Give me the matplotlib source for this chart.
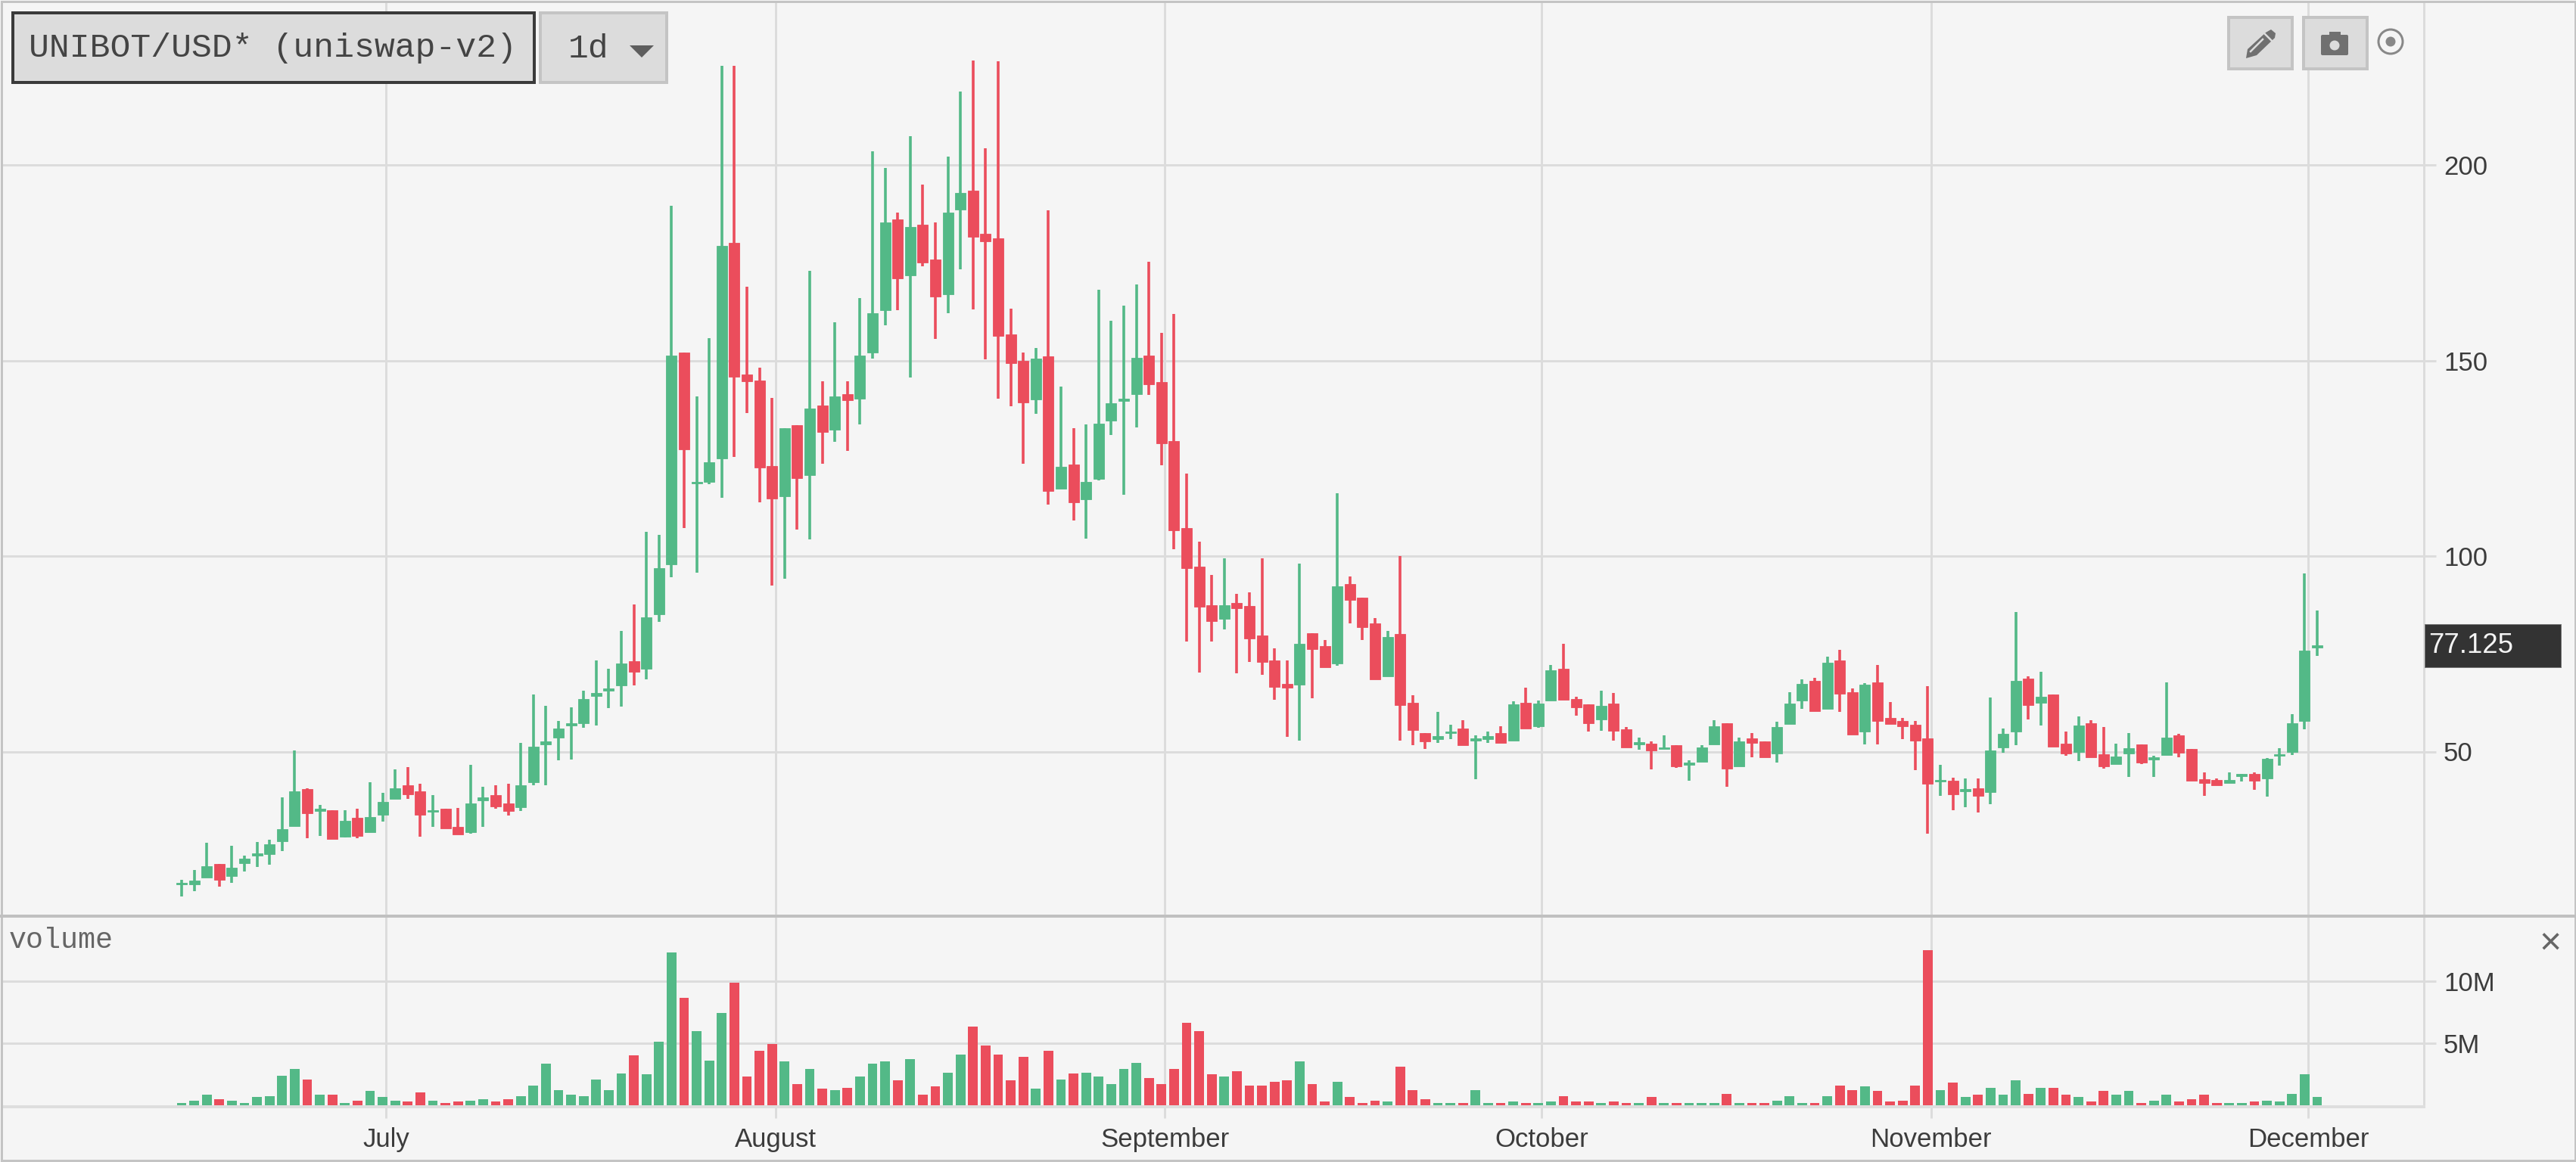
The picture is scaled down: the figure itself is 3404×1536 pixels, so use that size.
import matplotlib
matplotlib.use("Agg")
import matplotlib.pyplot as plt
import pandas as pd
from matplotlib.patches import Rectangle, Circle, Polygon, FancyBboxPatch
from matplotlib.transforms import blended_transform_factory

title = "UNIBOT/USD* (uniswap-v2)"
interval = "1d"
start_date = "2023-06-15"
last_price = 77.125
month_starts = ["2023-07-01", "2023-08-01", "2023-09-01", "2023-10-01", "2023-11-01", "2023-12-01"]
month_labels = ["July", "August", "September", "October", "November", "December"]
price_ticks = [50, 100, 150, 200]
volume_ticks = [5, 10]
volume_tick_labels = ["5M", "10M"]

opens = [16.0,16.0,17.8,21.3,18.1,21.4,23.4,23.8,27.0,30.9,
 40.4,34.8,35.0,28.2,33.0,29.4,33.9,37.9,41.3,39.8,
 34.6,35.4,30.8,29.4,37.6,38.9,36.8,35.7,42.1,51.9,
 53.5,56.7,57.3,64.2,65.6,66.9,73.1,71.1,85.2,97.9,
 152.0,118.5,119.0,125.0,180.0,146.4,144.9,123.1,115.3,133.4,
 120.6,138.4,132.3,141.4,140.3,152.0,162.8,186.0,171.8,184.8,
 175.8,167.0,188.5,193.5,182.4,181.2,156.7,149.9,140.0,151.0,
 117.3,123.4,114.6,119.7,134.7,139.7,141.3,151.2,144.4,129.4,
 107.2,97.3,87.5,84.0,88.0,87.2,79.6,73.4,67.3,67.2,
 80.2,77.0,72.5,92.9,89.3,82.7,69.3,80.0,62.5,54.8,
 53.2,54.7,55.9,52.8,53.2,54.8,52.8,62.5,56.4,63.0,
 71.2,63.5,62.0,58.3,62.3,55.7,51.9,52.1,50.7,51.7,
 46.7,47.3,51.9,57.2,46.2,53.3,52.7,49.5,57.0,63.0,
 68.0,60.9,73.4,65.2,55.2,67.7,58.7,57.8,56.9,53.3,
 42.3,42.5,39.9,40.7,39.6,51.0,55.2,68.6,62.4,64.7,
 52.1,50.0,57.2,49.4,46.8,49.5,51.8,48.0,49.2,54.2,
 50.6,43.0,42.8,42.0,43.8,44.3,43.2,48.9,50.0,57.9,
 76.5]
closes = [16.5,17.0,20.6,17.2,20.3,22.7,24.0,26.3,30.2,39.8,
 34.2,35.4,27.6,32.3,28.5,33.2,37.1,40.7,39.0,33.9,
 35.1,30.3,28.8,36.8,38.3,36.0,34.8,41.3,51.2,52.7,
 55.9,57.2,63.4,65.0,66.2,72.5,70.5,84.4,97.0,151.3,
 127.2,118.9,124.0,179.4,145.8,144.6,122.7,114.7,132.7,120.0,
 137.8,131.7,140.9,139.8,151.3,162.1,185.3,170.9,184.2,175.0,
 166.4,187.8,192.9,181.7,180.5,156.2,149.3,139.2,150.4,116.7,
 122.8,113.7,118.9,133.9,139.0,140.2,150.7,143.9,128.8,106.5,
 96.9,87.0,83.4,87.5,86.7,79.0,72.9,66.6,66.3,77.6,
 76.2,71.6,92.2,88.8,81.9,68.4,79.4,61.8,55.5,52.6,
 54.0,55.2,51.6,53.3,54.0,52.2,62.0,55.9,62.3,70.7,
 63.3,61.3,57.3,61.7,55.3,51.1,52.4,50.2,51.1,46.2,
 47.2,51.1,56.5,45.6,52.7,52.2,48.5,56.3,62.3,67.4,
 60.3,72.8,64.8,54.3,67.1,57.9,57.0,56.4,52.8,41.7,
 42.8,39.0,40.4,38.7,50.3,54.5,68.0,61.8,64.1,51.3,
 49.5,56.6,48.6,46.2,48.8,50.9,47.1,48.5,53.6,49.8,
 42.6,42.0,41.3,42.8,44.3,42.6,48.2,49.4,57.2,75.8,
 77.125]
highs = [17.3,19.7,26.6,21.3,26.0,23.4,26.9,27.4,38.3,50.3,
 40.7,36.3,35.0,35.0,35.3,42.1,39.5,45.5,46.1,41.7,
 38.9,35.4,35.6,46.7,41.1,41.3,41.7,52.3,64.6,61.7,
 57.8,61.3,65.5,73.4,71.2,80.8,87.6,106.1,105.5,189.6,
 152.0,140.8,155.8,225.3,225.3,168.9,148.2,140.5,132.7,133.4,
 172.9,144.7,159.7,144.7,166.0,203.4,199.2,187.8,207.3,194.9,
 185.3,202.1,218.7,226.7,204.3,226.5,163.2,152.0,153.1,188.4,
 143.3,132.7,133.7,168.0,160.2,164.1,169.5,175.2,157.0,161.8,
 121.0,103.7,95.2,99.5,90.4,90.7,99.5,76.4,73.4,98.0,
 80.2,78.5,116.0,94.7,89.3,84.2,80.8,100.0,64.4,54.8,
 60.2,56.8,58.0,54.2,55.1,56.5,62.8,66.4,63.1,72.1,
 77.5,64.0,62.0,65.5,65.0,56.2,53.6,52.7,54.2,51.7,
 47.8,51.7,58.1,57.2,53.6,54.8,52.7,57.6,65.2,68.5,
 68.9,74.2,76.1,66.1,67.6,72.2,62.6,58.7,57.8,66.8,
 46.7,43.4,43.2,43.1,63.8,55.9,85.7,69.3,70.4,64.7,
 55.2,59.0,58.1,56.3,52.1,54.8,51.8,49.0,67.7,54.5,
 50.6,44.6,43.2,44.6,44.3,44.6,48.3,50.8,59.6,95.6,
 86.0]
lows = [13.0,14.4,17.8,15.4,16.5,19.3,20.5,21.0,24.6,30.9,
 27.9,28.5,27.6,28.0,27.9,29.4,32.2,37.9,38.0,28.2,
 30.7,30.3,28.8,29.1,30.8,35.4,33.6,34.8,41.4,41.4,
 47.8,48.0,56.1,56.7,61.2,61.5,66.9,68.4,83.1,94.6,
 107.2,95.8,118.3,114.9,125.4,136.5,113.8,92.5,94.2,106.7,
 104.2,123.6,129.3,126.9,133.7,150.5,158.9,162.8,145.6,174.0,
 155.6,162.0,173.3,163.1,150.3,140.3,138.3,123.6,136.4,113.1,
 117.3,109.1,104.5,119.4,131.0,115.7,132.9,141.2,123.3,101.7,
 78.1,70.3,78.1,81.2,70.0,72.9,69.7,63.3,53.8,52.8,
 63.6,71.6,71.9,82.8,78.6,68.4,69.3,52.8,51.6,50.7,
 52.2,53.2,51.6,42.9,52.2,52.2,52.8,55.9,56.0,63.0,
 63.3,59.2,55.2,55.3,52.8,51.1,50.5,45.4,50.7,45.9,
 42.6,47.3,51.9,41.1,46.2,48.5,48.5,47.1,57.0,60.9,
 60.3,60.9,60.2,54.3,51.9,51.9,57.0,53.1,45.3,29.1,
 38.7,35.0,35.7,34.5,36.6,49.8,51.6,58.2,56.7,51.3,
 48.9,47.6,48.6,45.6,46.8,43.5,46.8,43.5,49.2,48.6,
 42.6,38.6,41.3,42.0,42.3,40.2,38.4,46.4,49.2,55.7,
 74.4]
volumes_m = [.18,.37,.86,.47,.37,.18,.67,.76,2.37,2.94,
 2.08,.86,.86,.18,.37,1.14,.67,.37,.29,1.04,
 .37,.18,.29,.37,.47,.29,.47,.76,1.61,3.33,
 1.24,.86,.76,2.08,1.24,2.57,4.0,2.47,5.12,12.33,
 8.65,5.98,3.61,7.41,9.88,2.29,4.37,4.94,3.51,1.71,
 2.94,1.33,1.24,1.43,2.29,3.33,3.51,2.0,3.69,.86,
 1.53,2.65,4.08,6.37,4.84,4.08,2.0,3.9,1.33,4.37,
 2.08,2.57,2.65,2.29,1.71,2.94,3.43,2.18,1.71,2.94,
 6.63,5.98,2.47,2.29,2.76,1.61,1.61,1.9,2.0,3.51,
 1.71,.29,1.9,.67,.18,.37,.29,3.14,1.24,.47,
 .18,.18,.18,1.24,.18,.18,.29,.18,.18,.29,
 .76,.29,.29,.18,.29,.18,.18,.67,.18,.18,
 .18,.18,.18,.94,.18,.18,.18,.37,.76,.18,
 .18,.76,1.61,1.24,1.53,1.14,.29,.37,1.61,12.51,
 1.24,1.8,.67,.86,1.43,.86,2.0,.94,1.43,1.43,
 .86,.67,.29,1.14,.86,1.14,.18,.37,.86,.29,
 .47,.86,.18,.18,.18,.29,.37,.29,.94,2.47,
 .67]

GREEN = "#53b987"
RED = "#eb4d5c"
BG = "#f5f5f5"
GRID = "#dcdcdc"
BORDER = "#c4c4c4"
TEXT = "#3c3c3c"
MONO = ["Liberation Mono", "DejaVu Sans Mono"]

W, H = 3404, 1536
DPI = 200
px = 72 / DPI  # one pixel in points
plt.rcParams["font.family"] = ["Liberation Sans", "DejaVu Sans"]

fig = plt.figure(figsize=(W / DPI, H / DPI), dpi=DPI, facecolor=BG)


def axes_px(x0, y0, x1, y1):
    return fig.add_axes([x0 / W, 1 - y1 / H, (x1 - x0) / W, (y1 - y0) / H], facecolor=BG)


ax = axes_px(3, 3, 3203, 1210)
axv = axes_px(3, 1212, 3203, 1463)

n = len(closes)
xs = list(range(n))
colors = [GREEN if c >= o else RED for o, c in zip(opens, closes)]
start = pd.Timestamp(start_date)
tick_pos = [(pd.Timestamp(d) - start).days + 0.27 for d in month_starts]

XPX = 16.6
for a in (ax, axv):
    a.set_xlim((3 - 240) / XPX, (3203 - 240) / XPX)
    a.set_xticks(tick_pos)
    a.set_axisbelow(True)
    a.grid(True, color=GRID, linewidth=3 * px)
    a.yaxis.tick_right()
    a.tick_params(axis="y", length=16 * px, width=3 * px, color=GRID, labelsize=12.5,
                  labelcolor=TEXT, pad=10 * px)
    a.tick_params(axis="x", length=15 * px, width=3 * px, color=GRID, labelsize=12.5,
                  labelcolor=TEXT, pad=12 * px)
    for s in a.spines.values():
        s.set_visible(False)
    a.spines["right"].set_visible(True)
    a.spines["right"].set_color(GRID)
    a.spines["right"].set_linewidth(3 * px)

# price panel
YPX = 5.17
ax.set_ylim((1252 - 1210) / YPX, (1252 - 3) / YPX)
ax.set_yticks(price_ticks)
ax.tick_params(axis="x", length=0, labelbottom=False)
ax.vlines(xs, lows, highs, colors=colors, linewidth=3.6 * px, zorder=3)
ax.bar(xs, [c - o for o, c in zip(opens, closes)], bottom=opens, width=0.84,
       color=colors, edgecolor=colors, linewidth=0.3, zorder=4)

# volume panel
VPX = 16.4
axv.set_ylim((1461 - 1463) / VPX, (1461 - 1212) / VPX)
axv.set_yticks(volume_ticks)
axv.set_yticklabels(volume_tick_labels)
axv.set_xticklabels(month_labels)
axv.spines["bottom"].set_visible(True)
axv.spines["bottom"].set_color("#dedede")
axv.spines["bottom"].set_linewidth(4 * px)
axv.bar(xs, volumes_m, width=0.78, color=colors, zorder=3)

# interface furniture, in pixel coordinates
ui = fig.add_axes([0, 0, 1, 1], facecolor="none")
ui.set_xlim(0, W)
ui.set_ylim(H, 0)
ui.axis("off")


def box(x0, y0, x1, y1, fc, ec, lw=3):
    ui.add_patch(Rectangle((x0, y0), x1 - x0, y1 - y0, facecolor=fc, edgecolor=ec, linewidth=lw * px))


box(1.5, 1.5, W - 1.5, H - 2, "none", BORDER, 3)
ui.plot([0, W], [1211, 1211], color="#c0c0c0", lw=4 * px, solid_capstyle="butt")

box(17, 17, 706, 109, "#dcdcdc", "#3a3a3a", 4)
ui.text(38, 64, title, family=MONO, fontsize=16.1, color="#444444", va="center", ha="left")
box(714, 17, 881, 109, "#dcdcdc", BORDER, 4)
ui.text(751, 64, interval, family=MONO, fontsize=16.1, color="#444444", va="center", ha="left")
ui.add_patch(Polygon([(832, 60), (864, 60), (848, 76)], closed=True, facecolor="#5e5e5e", edgecolor="none"))

box(2945, 23, 3029, 91, "#dcdcdc", BORDER, 4)
box(3044, 23, 3128, 91, "#dcdcdc", BORDER, 4)
ICON = "#707070"
ui.add_patch(Polygon([(2968, 77), (2970, 65), (2994, 43), (3001, 39), (3007, 44), (3006, 50), (2982, 73)],
                     closed=True, facecolor=ICON, edgecolor="none"))
ui.plot([2990, 3003], [42, 55], color="#dcdcdc", lw=2.5 * px)
ui.plot([2974, 2990], [68, 52], color="#dcdcdc", lw=2.5 * px)
ui.add_patch(FancyBboxPatch((3069, 48), 32, 23, boxstyle="round,pad=2", facecolor=ICON, edgecolor="none"))
ui.add_patch(Rectangle((3078, 42), 15, 6, facecolor=ICON, edgecolor="none"))
ui.add_patch(Circle((3085, 60), 6.5, facecolor="#dcdcdc", edgecolor="none"))
ui.add_patch(Circle((3159, 55), 16, facecolor="none", edgecolor="#888888", linewidth=3 * px))
ui.add_patch(Circle((3159, 55), 6.5, facecolor="#888888", edgecolor="none"))

ui.add_patch(Rectangle((3204, 825), 180, 57, facecolor="#333333", edgecolor="#777777", linewidth=1 * px, zorder=1))
tag_tr = blended_transform_factory(ui.transData, ax.transData)
ui.text(3209, last_price, f"{last_price:.3f}", transform=tag_tr, color="#f4f4f4", fontsize=13.2,
        va="center", ha="left", zorder=5)
ui.text(12, 1243, "volume", family=MONO, fontsize=13.8, color="#666666", va="center", ha="left")
ui.text(3370, 1249, "\u00d7", fontsize=18, color="#666666", va="center", ha="center")

fig.savefig("out.png", dpi=DPI, facecolor=BG)
